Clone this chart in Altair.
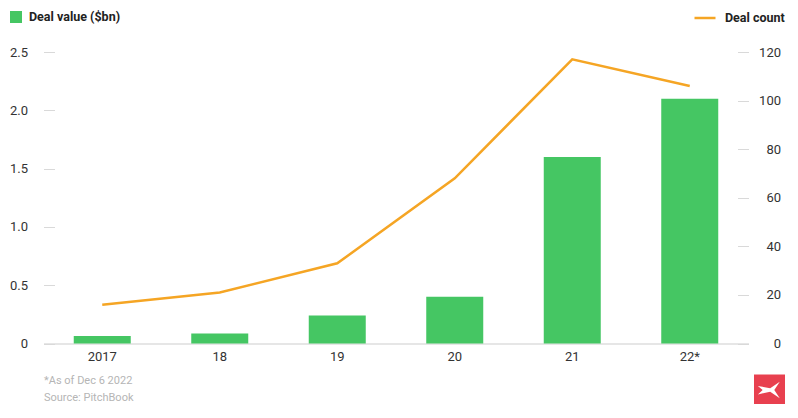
import altair as alt
import pandas as pd

years = ["2017", "18", "19", "20", "21", "22*"]
deal_value = [0.065, 0.085, 0.24, 0.40, 1.60, 2.10]
deal_count = [16, 21, 33, 68, 117, 106]
left_ticks = [0, 0.5, 1.0, 1.5, 2.0, 2.5]
right_ticks = [0, 20, 40, 60, 80, 100, 120]
notes = ["*As of Dec 6 2022", "Source: PitchBook"]

GREEN = "#45C663"
ORANGE = "#F5A524"
RED = "#E8404F"

df = pd.DataFrame({
    "year": years,
    "value": deal_value,
    "count": deal_count,
    "vlabel": ["Deal value ($bn)"] * len(years),
    "clabel": ["Deal count"] * len(years),
})

x = alt.X("year:N", sort=years, title=None,
          scale=alt.Scale(paddingInner=0.51, paddingOuter=0.255),
          axis=alt.Axis(labelAngle=0, ticks=False, domain=True, domainColor="#e6e6e6",
                        domainWidth=2, labelPadding=7, labelFontSize=13, labelColor="#333333"))

bars = alt.Chart(df).mark_bar(size=57).encode(
    x=x,
    y=alt.Y("value:Q", title=None,
            scale=alt.Scale(domain=[0, 2.5], nice=False),
            axis=alt.Axis(values=left_ticks, domain=False, grid=False, tickSize=11, offset=-11,
                          tickColor="#d9d9d9", labelPadding=16, labelFontSize=13,
                          labelColor="#333333",
                          labelExpr="datum.value == 0 ? '0' : format(datum.value, '.1f')")),
    color=alt.Color("vlabel:N", scale=alt.Scale(range=[GREEN]),
                    legend=alt.Legend(title=None, orient="none", legendX=-34.5, legendY=-42,
                                      symbolType="square", symbolSize=144, labelFontSize=12.5,
                                      labelFontWeight="bold", labelColor="#222222",
                                      labelOffset=6, padding=0)),
)

line = alt.Chart(df).mark_line(strokeWidth=2.5).encode(
    x=x,
    y=alt.Y("count:Q", title=None,
            scale=alt.Scale(domain=[0, 120], nice=False),
            axis=alt.Axis(orient="right", values=right_ticks, domain=False, grid=False,
                          tickSize=11, offset=-11, tickColor="#d9d9d9", labelPadding=32,
                          labelAlign="right", labelFontSize=13, labelColor="#333333")),
    stroke=alt.Stroke("clabel:N", scale=alt.Scale(range=[ORANGE]),
                      legend=alt.Legend(title=None, orient="none", legendX=649.5, legendY=-46,
                                        symbolType="stroke", symbolSize=441,
                                        symbolStrokeWidth=2.5, labelFontSize=12.5,
                                        labelFontWeight="bold", labelColor="#222222",
                                        labelOffset=8, padding=0)),
)

notes_df = pd.DataFrame({"t": notes, "i": [0, 1]})
note_text = alt.Chart(notes_df).mark_text(align="left", baseline="middle", fontSize=11,
                                           color="#b5b5b5").encode(
    x=alt.value(0.5),
    y=alt.value(329),
    text="t:N",
).transform_filter("datum.i == 0")
note_text2 = alt.Chart(notes_df).mark_text(align="left", baseline="middle", fontSize=11,
                                            color="#b5b5b5").encode(
    x=alt.value(0.5),
    y=alt.value(346),
    text="t:N",
).transform_filter("datum.i == 1")

logo_df = pd.DataFrame({"k": ["logo"]})
logo_bg = alt.Chart(logo_df).mark_point(shape="square", filled=True, size=961, color=RED,
                                        opacity=1).encode(
    x=alt.value(726), y=alt.value(338))
logo_fg = alt.Chart(logo_df).mark_point(
    shape="M-0.85,-0.3 L0.05,-0.12 L0.75,-0.6 L0.35,0 L0.75,0.6 L0.05,0.12 L-0.85,0.32 L-0.5,0 Z",
    filled=True, size=750, color="white", opacity=1).encode(
    x=alt.value(726), y=alt.value(338))

chart = alt.layer(bars, line, note_text, note_text2, logo_bg, logo_fg).resolve_scale(
    y="independent", color="independent", stroke="independent"
).properties(
    width=705, height=291.5,
    autosize=alt.AutoSizeParams(type="none"),
    padding={"left": 35.5, "top": 44, "right": 41, "bottom": 60},
).configure(font="Roboto").configure_view(stroke=None)

chart.save("out.html", embed_options={"renderer": "svg", "actions": False})
